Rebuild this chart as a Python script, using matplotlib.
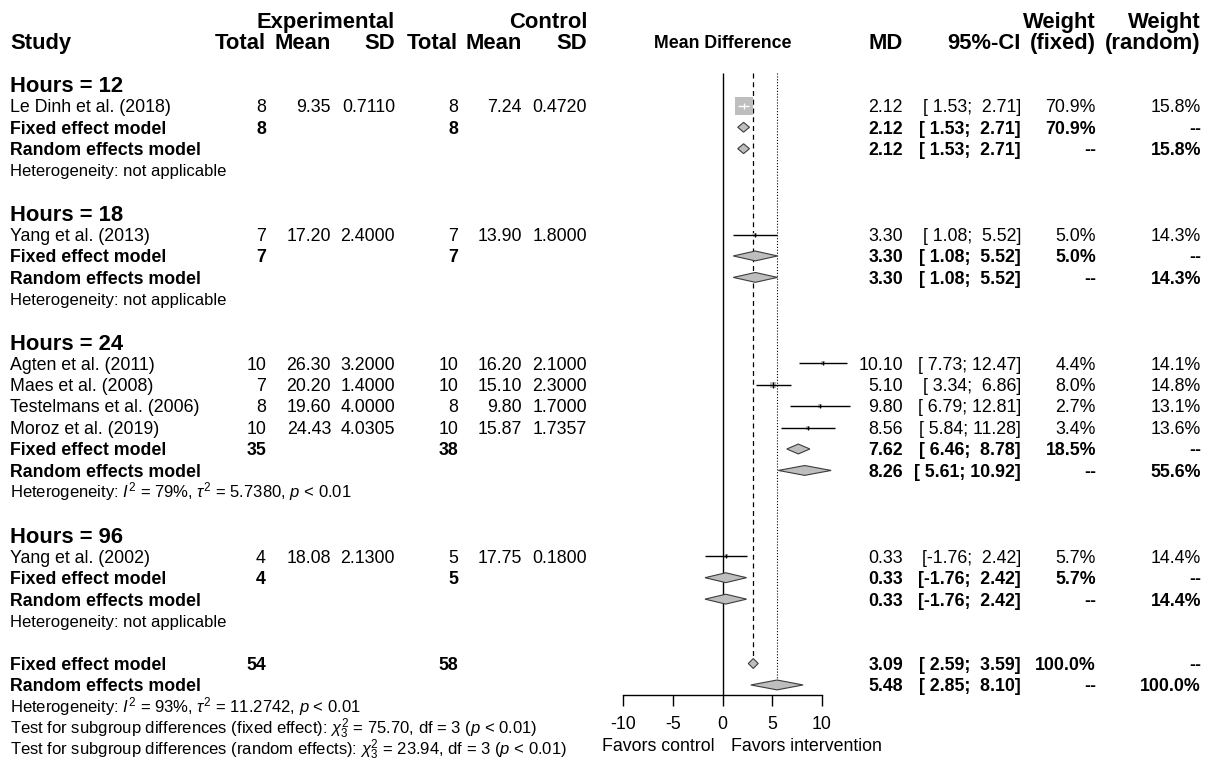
import matplotlib

matplotlib.use("Agg")
import matplotlib.pyplot as plt
import numpy as np

plt.rcParams["font.family"] = ["Liberation Sans", "DejaVu Sans"]
plt.rcParams["mathtext.fontset"] = "custom"
plt.rcParams["mathtext.rm"] = "Liberation Sans"
plt.rcParams["mathtext.it"] = "Liberation Sans:italic"
plt.rcParams["mathtext.bf"] = "Liberation Sans:bold"
plt.rcParams["axes.unicode_minus"] = False

# ---- data ----
subgroups = ["Hours = 12", "Hours = 18", "Hours = 24", "Hours = 96"]
study_group = [0, 1, 2, 2, 2, 2, 3]
studies = [
    "Le Dinh et al. (2018)",
    "Yang et al. (2013)",
    "Agten et al. (2011)",
    "Maes et al. (2008)",
    "Testelmans et al. (2006)",
    "Moroz et al. (2019)",
    "Yang et al. (2002)",
]
exp_n = [8, 7, 10, 7, 8, 10, 4]
exp_mean = [9.35, 17.20, 26.30, 20.20, 19.60, 24.43, 18.08]
exp_sd = [0.7110, 2.4000, 3.2000, 1.4000, 4.0000, 4.0305, 2.1300]
ctl_n = [8, 7, 10, 10, 8, 10, 5]
ctl_mean = [7.24, 13.90, 16.20, 15.10, 9.80, 15.87, 17.75]
ctl_sd = [0.4720, 1.8000, 2.1000, 2.3000, 1.7000, 1.7357, 0.1800]
md = [2.12, 3.30, 10.10, 5.10, 9.80, 8.56, 0.33]
ci_lo = [1.53, 1.08, 7.73, 3.34, 6.79, 5.84, -1.76]
ci_hi = [2.71, 5.52, 12.47, 6.86, 12.81, 11.28, 2.42]
w_fixed = [70.9, 5.0, 4.4, 8.0, 2.7, 3.4, 5.7]
w_random = [15.8, 14.3, 14.1, 14.8, 13.1, 13.6, 14.4]

sg_exp_n = [8, 7, 35, 4]
sg_ctl_n = [8, 7, 38, 5]
sg_fixed_md = [2.12, 3.30, 7.62, 0.33]
sg_fixed_lo = [1.53, 1.08, 6.46, -1.76]
sg_fixed_hi = [2.71, 5.52, 8.78, 2.42]
sg_fixed_w = [70.9, 5.0, 18.5, 5.7]
sg_random_md = [2.12, 3.30, 8.26, 0.33]
sg_random_lo = [1.53, 1.08, 5.61, -1.76]
sg_random_hi = [2.71, 5.52, 10.92, 2.42]
sg_random_w = [15.8, 14.3, 55.6, 14.4]
sg_het = [
    "Heterogeneity: not applicable",
    "Heterogeneity: not applicable",
    r"Heterogeneity: $I^2$ = 79%, $\tau^2$ = 5.7380, $p$ < 0.01",
    "Heterogeneity: not applicable",
]

total_exp_n = 54
total_ctl_n = 58
overall_fixed = (3.09, 2.59, 3.59, 100.0)
overall_random = (5.48, 2.85, 8.10, 100.0)
overall_notes = [
    r"Heterogeneity: $I^2$ = 93%, $\tau^2$ = 11.2742, $p$ < 0.01",
    r"Test for subgroup differences (fixed effect): $\chi^2_3$ = 75.70, df = 3 ($p$ < 0.01)",
    r"Test for subgroup differences (random effects): $\chi^2_3$ = 23.94, df = 3 ($p$ < 0.01)",
]
xticks = [-10, -5, 0, 5, 10]

# ---- layout (pixels at dpi 100) ----
W, H = 1210, 760
ROW0, ROW_PX = 20, 21.45
X_LEFT, X_RIGHT = 623, 822          # pixel positions of -10 and 10
AXIS_Y = 695
FS, FS_HEAD, FS_SMALL = 12.8, 15.8, 12.0
COL = dict(exp_n=266, exp_mean=331, exp_sd=395, ctl_n=458, ctl_mean=522, ctl_sd=587,
           md=903, ci=1021, wf=1096, wr=1201)
GREY = "#bebebe"
DIAMOND_H = 0.23


def row_of(px):
    return (px - ROW0) / ROW_PX


def base_off(size):
    # shift so that the cap-height centre sits on the row
    return 0.358 * size * 100 / 72 / ROW_PX


fig = plt.figure(figsize=(W / 100, H / 100), dpi=100)
tx = fig.add_axes([0, 0, 1, 1])
tx.set_xlim(0, W)
tx.set_ylim(row_of(H), row_of(0))
tx.axis("off")

fx = fig.add_axes([X_LEFT / W, (H - AXIS_Y) / H, (X_RIGHT - X_LEFT) / W, AXIS_Y / H])
fx.set_xlim(xticks[0], xticks[-1])
fx.set_ylim(row_of(AXIS_Y), row_of(0))
fx.patch.set_alpha(0)
for side in ["top", "left", "right"]:
    fx.spines[side].set_visible(False)
fx.spines["bottom"].set_linewidth(1.0)
fx.set_yticks([])
fx.set_xticks(xticks)
fx.tick_params(axis="x", direction="out", length=7.9, width=1.0, labelsize=FS, pad=6.9)


def put(x, r, s, size=FS, bold=False, ha="right"):
    tx.text(x, r + base_off(size), s, fontsize=size, ha=ha, va="baseline",
            fontweight="bold" if bold else "normal")


def ci_str(lo, hi):
    return f"[{lo:5.2f}; {hi:5.2f}]"


def stat_cols(r, m, lo, hi, wf, wr, bold):
    put(COL["md"], r, f"{m:.2f}", bold=bold)
    put(COL["ci"], r, ci_str(lo, hi), bold=bold)
    put(COL["wf"], r, "--" if wf is None else f"{wf:.1f}%", bold=bold)
    put(COL["wr"], r, "--" if wr is None else f"{wr:.1f}%", bold=bold)


def diamond(r, m, lo, hi):
    fx.fill([lo, m, hi, m], [r, r - DIAMOND_H, r, r + DIAMOND_H], facecolor=GREY,
            edgecolor="#3c3c3c", linewidth=0.8, zorder=4, clip_on=False)


# headers
put(COL["exp_sd"], 0, "Experimental", FS_HEAD, True)
put(COL["ctl_sd"], 0, "Control", FS_HEAD, True)
put(COL["wf"], 0, "Weight", FS_HEAD, True)
put(COL["wr"], 0, "Weight", FS_HEAD, True)
put(10, 1, "Study", FS_HEAD, True, ha="left")
for key, lab in [("exp_n", "Total"), ("exp_mean", "Mean"), ("exp_sd", "SD"),
                 ("ctl_n", "Total"), ("ctl_mean", "Mean"), ("ctl_sd", "SD"),
                 ("md", "MD"), ("ci", "95%-CI"), ("wf", "(fixed)"), ("wr", "(random)")]:
    put(COL[key], 1, lab, FS_HEAD, True)
put((X_LEFT + X_RIGHT) / 2, 1, "Mean Difference", FS, True, ha="center")

# body
r = 3
max_w = max(w_fixed)
for g, name in enumerate(subgroups):
    put(10, r, name, FS_HEAD, True, ha="left")
    r += 1
    for i in [k for k, sg in enumerate(study_group) if sg == g]:
        put(10, r, studies[i], ha="left")
        put(COL["exp_n"], r, str(exp_n[i]))
        put(COL["exp_mean"], r, f"{exp_mean[i]:.2f}")
        put(COL["exp_sd"], r, f"{exp_sd[i]:.4f}")
        put(COL["ctl_n"], r, str(ctl_n[i]))
        put(COL["ctl_mean"], r, f"{ctl_mean[i]:.2f}")
        put(COL["ctl_sd"], r, f"{ctl_sd[i]:.4f}")
        stat_cols(r, md[i], ci_lo[i], ci_hi[i], w_fixed[i], w_random[i], False)
        side_px = 17.5 * np.sqrt(w_fixed[i] / max_w)
        fx.scatter([md[i]], [r], marker="s", s=(side_px * 0.72) ** 2, color=GREY,
                   linewidths=0, zorder=3, clip_on=False)
        ci_px = (ci_hi[i] - ci_lo[i]) * (X_RIGHT - X_LEFT) / 20
        line_col = "white" if ci_px < side_px else "black"
        fx.hlines(r, ci_lo[i], ci_hi[i], colors=line_col, linewidth=1.0, zorder=5,
                  clip_on=False)
        fx.plot([md[i]], [r], marker="|", markersize=min(side_px, 6) * 0.72,
                color=line_col, markeredgewidth=0.9, zorder=5, clip_on=False)
        r += 1
    put(10, r, "Fixed effect model", bold=True, ha="left")
    put(COL["exp_n"], r, str(sg_exp_n[g]), bold=True)
    put(COL["ctl_n"], r, str(sg_ctl_n[g]), bold=True)
    stat_cols(r, sg_fixed_md[g], sg_fixed_lo[g], sg_fixed_hi[g], sg_fixed_w[g], None, True)
    diamond(r, sg_fixed_md[g], sg_fixed_lo[g], sg_fixed_hi[g])
    r += 1
    put(10, r, "Random effects model", bold=True, ha="left")
    stat_cols(r, sg_random_md[g], sg_random_lo[g], sg_random_hi[g], None, sg_random_w[g], True)
    diamond(r, sg_random_md[g], sg_random_lo[g], sg_random_hi[g])
    r += 1
    put(10, r, sg_het[g], FS_SMALL, ha="left")
    r += 2

fixed_row = r
put(10, r, "Fixed effect model", bold=True, ha="left")
put(COL["exp_n"], r, str(total_exp_n), bold=True)
put(COL["ctl_n"], r, str(total_ctl_n), bold=True)
stat_cols(r, overall_fixed[0], overall_fixed[1], overall_fixed[2], overall_fixed[3], None, True)
diamond(r, *overall_fixed[:3])
r += 1
random_row = r
put(10, r, "Random effects model", bold=True, ha="left")
stat_cols(r, overall_random[0], overall_random[1], overall_random[2], None, overall_random[3], True)
diamond(r, *overall_random[:3])
r += 1
for note in overall_notes:
    put(10, r, note, FS_SMALL, ha="left")
    r += 1

# reference lines
top = row_of(73)
fx.vlines(0, top, row_of(AXIS_Y), colors="black", linewidth=1.0, zorder=2)
fx.vlines(overall_fixed[0], top, fixed_row - DIAMOND_H, colors="black", linewidth=0.9,
          linestyles=(0, (4, 3)), zorder=2)
fx.vlines(overall_random[0], top, random_row - DIAMOND_H, colors="black", linewidth=0.8,
          linestyles=(0, (1, 1.6)), zorder=2)

zero_px = X_LEFT + (0 - xticks[0]) / (xticks[-1] - xticks[0]) * (X_RIGHT - X_LEFT)
put(zero_px - 8, row_of(745), "Favors control", ha="right")
put(zero_px + 8.5, row_of(745), "Favors intervention", ha="left")

fig.savefig("out.png", dpi=100)
